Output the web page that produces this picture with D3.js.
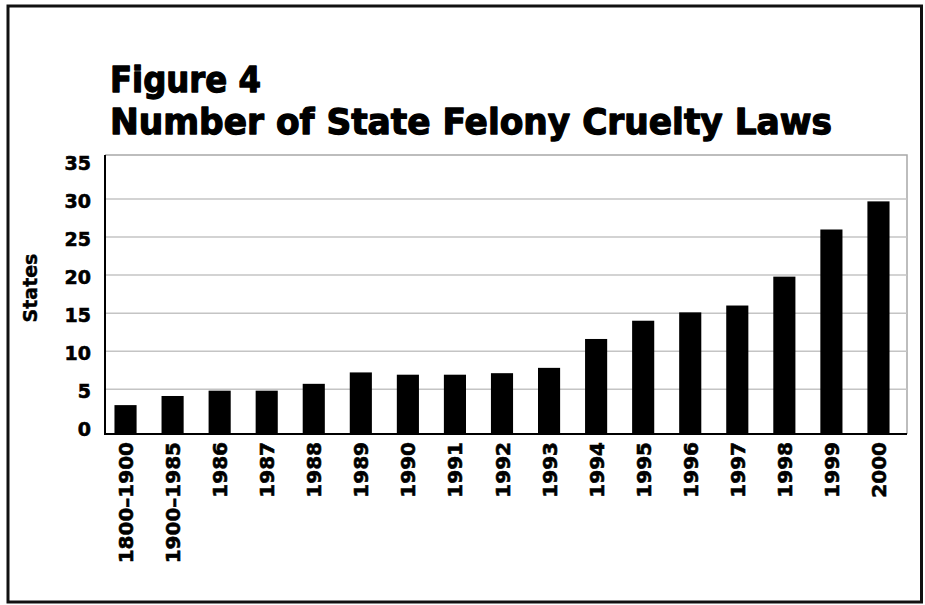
<!DOCTYPE html>
<html>
<head>
<meta charset="utf-8">
<script src="https://cdn.jsdelivr.net/npm/d3@7/dist/d3.min.js"></script>
<style>
  html, body { margin: 0; padding: 0; background: #fff; }
  svg { display: block; }
</style>
</head>
<body>
<svg id="chart" width="925" height="605"></svg>
<script>
// ---- data ----
const categories = ["1800\u20131900", "1900\u20131985", "1986", "1987", "1988", "1989", "1990", "1991", "1992", "1993", "1994", "1995", "1996", "1997", "1998", "1999", "2000"];
const states = [2.9, 4.1, 4.8, 4.8, 5.7, 7.2, 6.9, 6.9, 7.1, 7.8, 11.6, 14.0, 15.1, 16.0, 19.8, 26.0, 29.7];
const yTicks = [0, 5, 10, 15, 20, 25, 30, 35];
const gridValues = [5, 10, 15, 20, 25, 30];
const titleLines = ["Figure 4", "Number of State Felony Cruelty Laws"];
const yAxisTitle = "States";
const yDomain = [-0.9, 35.8];

// ---- layout ----
const svg = d3.select("#chart");
const font = "'DejaVu Sans', 'Liberation Sans', sans-serif";
const plot = { left: 105, right: 907, top: 155, bottom: 434 };

// outer frame
svg.append("rect")
  .attr("x", 8).attr("y", 6).attr("width", 913.5).attr("height", 596)
  .attr("fill", "none").attr("stroke", "#111").attr("stroke-width", 3);

// title
const titleSpec = [
  { y: 92, len: 151 },
  { y: 134, len: 722 }
];
titleLines.forEach((t, i) => {
  svg.append("text")
    .attr("x", 110).attr("y", titleSpec[i].y)
    .attr("font-family", font).attr("font-weight", "bold")
    .attr("font-size", 36)
    .attr("textLength", titleSpec[i].len)
    .attr("lengthAdjust", "spacingAndGlyphs")
    .attr("fill", "#000")
    .attr("stroke", "#000").attr("stroke-width", 1.3)
    .attr("stroke-linejoin", "round")
    .text(t);
});

// scales
const x = d3.scaleBand()
  .domain(categories)
  .range([102, 902])
  .paddingInner(0.53)
  .paddingOuter(0.265);

const y = d3.scaleLinear()
  .domain(yDomain)
  .range([plot.bottom, plot.top]);

// plot border (top/right)
svg.append("path")
  .attr("d", `M${plot.left},${plot.top}H${plot.right}V${plot.bottom}`)
  .attr("fill", "none").attr("stroke", "#a8a8a8").attr("stroke-width", 1.5);

// gridlines
svg.append("g")
  .selectAll("line")
  .data(gridValues)
  .join("line")
  .attr("x1", plot.left).attr("x2", plot.right)
  .attr("y1", d => y(d)).attr("y2", d => y(d))
  .attr("stroke", "#c4c4c4").attr("stroke-width", 1.5);

// bars
svg.append("g")
  .selectAll("rect")
  .data(categories.map((c, i) => ({ c, v: states[i] })))
  .join("rect")
  .attr("x", d => x(d.c))
  .attr("width", x.bandwidth())
  .attr("y", d => y(d.v))
  .attr("height", d => y(yDomain[0]) - y(d.v))
  .attr("fill", "#000");

// y axis
const yAxis = d3.axisLeft(y).tickValues(yTicks).tickSize(0).tickPadding(0);
const gy = svg.append("g")
  .attr("transform", `translate(${plot.left},0)`)
  .call(yAxis);
gy.select(".domain").remove();
gy.selectAll("text")
  .attr("x", -14)
  .attr("dy", "0.45em")
  .attr("font-family", font).attr("font-weight", "bold")
  .attr("font-size", 19).attr("fill", "#000")
  .attr("stroke", "#000").attr("stroke-width", 0.6);

// axis lines
svg.append("line")
  .attr("x1", plot.left).attr("x2", plot.left)
  .attr("y1", plot.top).attr("y2", plot.bottom + 1)
  .attr("stroke", "#000").attr("stroke-width", 2);
svg.append("line")
  .attr("x1", plot.left - 1).attr("x2", plot.right)
  .attr("y1", plot.bottom).attr("y2", plot.bottom)
  .attr("stroke", "#000").attr("stroke-width", 2);

// x axis labels
const xAxis = d3.axisBottom(x).tickSize(0).tickPadding(0);
const gx = svg.append("g")
  .attr("transform", `translate(0,${plot.bottom})`)
  .call(xAxis);
gx.select(".domain").remove();
gx.selectAll("text")
  .attr("font-family", font).attr("font-weight", "bold")
  .attr("font-size", 20).attr("fill", "#000")
  .attr("stroke", "#000").attr("stroke-width", 0.6)
  .attr("text-anchor", "end")
  .attr("dy", null)
  .attr("y", 0)
  .attr("transform", "translate(7.5,8) rotate(-90)");

// y axis title
svg.append("text")
  .attr("transform", "translate(37,288) rotate(-90)")
  .attr("text-anchor", "middle")
  .attr("font-family", font).attr("font-weight", "bold")
  .attr("font-size", 19).attr("fill", "#000")
  .attr("stroke", "#000").attr("stroke-width", 0.4)
  .text(yAxisTitle);
</script>
</body>
</html>
